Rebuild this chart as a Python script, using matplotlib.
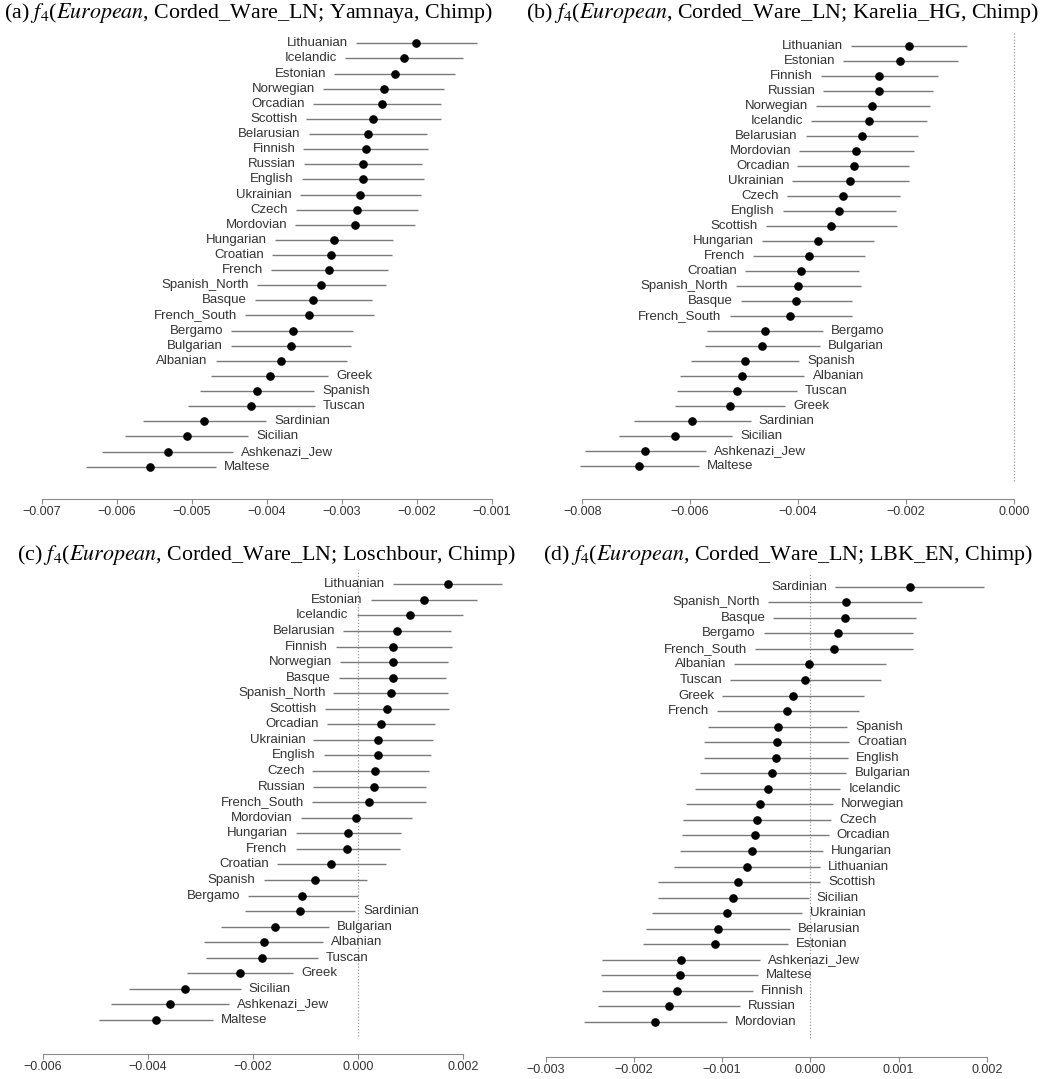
import matplotlib
matplotlib.use("Agg")
import matplotlib.pyplot as plt

plt.rcParams['font.family'] = ['Liberation Sans', 'DejaVu Sans']
plt.rcParams['mathtext.fontset'] = 'stix'

W, H = 1055, 1079

# (a) Yamnaya
pops_a = ["Lithuanian", "Icelandic", "Estonian", "Norwegian", "Orcadian", "Scottish",
          "Belarusian", "Finnish", "Russian", "English", "Ukrainian", "Czech", "Mordovian",
          "Hungarian", "Croatian", "French", "Spanish_North", "Basque", "French_South",
          "Bergamo", "Bulgarian", "Albanian", "Greek", "Spanish", "Tuscan", "Sardinian",
          "Sicilian", "Ashkenazi_Jew", "Maltese"]
est_a = [-0.00201, -0.00217, -0.00229, -0.00244, -0.00246, -0.00258, -0.00265, -0.00268,
         -0.00272, -0.00271, -0.00275, -0.00279, -0.00282, -0.00310, -0.00314, -0.00317,
         -0.00328, -0.00338, -0.00343, -0.00365, -0.00368, -0.00381, -0.00396, -0.00413,
         -0.00421, -0.00483, -0.00506, -0.00532, -0.00555]
lo_a = [-0.00281, -0.00296, -0.00310, -0.00325, -0.00338, -0.00348, -0.00344, -0.00351,
        -0.00350, -0.00353, -0.00356, -0.00361, -0.00362, -0.00389, -0.00393, -0.00394,
        -0.00413, -0.00416, -0.00429, -0.00447, -0.00448, -0.00468, -0.00474, -0.00489,
        -0.00505, -0.00565, -0.00589, -0.00619, -0.00641]
hi_a = [-0.00120, -0.00138, -0.00149, -0.00163, -0.00167, -0.00168, -0.00186, -0.00185,
        -0.00193, -0.00190, -0.00194, -0.00198, -0.00202, -0.00231, -0.00233, -0.00238,
        -0.00241, -0.00259, -0.00257, -0.00285, -0.00288, -0.00293, -0.00318, -0.00337,
        -0.00336, -0.00401, -0.00425, -0.00445, -0.00468]

# (b) Karelia_HG
pops_b = ["Lithuanian", "Estonian", "Finnish", "Russian", "Norwegian", "Icelandic",
          "Belarusian", "Mordovian", "Orcadian", "Ukrainian", "Czech", "English", "Scottish",
          "Hungarian", "French", "Croatian", "Spanish_North", "Basque", "French_South",
          "Bergamo", "Bulgarian", "Spanish", "Albanian", "Tuscan", "Greek", "Sardinian",
          "Sicilian", "Ashkenazi_Jew", "Maltese"]
est_b = [-0.00194, -0.00211, -0.00249, -0.00250, -0.00262, -0.00268, -0.00282, -0.00292,
         -0.00297, -0.00304, -0.00316, -0.00324, -0.00338, -0.00362, -0.00380, -0.00394,
         -0.00400, -0.00404, -0.00414, -0.00461, -0.00466, -0.00498, -0.00503, -0.00514,
         -0.00527, -0.00596, -0.00628, -0.00683, -0.00694]
lo_b = [-0.00302, -0.00316, -0.00357, -0.00353, -0.00367, -0.00375, -0.00386, -0.00398,
        -0.00401, -0.00412, -0.00421, -0.00428, -0.00460, -0.00467, -0.00484, -0.00498,
        -0.00515, -0.00506, -0.00527, -0.00568, -0.00572, -0.00598, -0.00618, -0.00624,
        -0.00629, -0.00704, -0.00732, -0.00795, -0.00804]
hi_b = [-0.00086, -0.00104, -0.00140, -0.00149, -0.00155, -0.00161, -0.00177, -0.00184,
        -0.00195, -0.00195, -0.00211, -0.00219, -0.00217, -0.00259, -0.00276, -0.00287,
        -0.00283, -0.00300, -0.00300, -0.00353, -0.00360, -0.00398, -0.00388, -0.00402,
        -0.00424, -0.00488, -0.00522, -0.00571, -0.00584]

# (c) Loschbour
pops_c = ["Lithuanian", "Estonian", "Icelandic", "Belarusian", "Finnish", "Norwegian",
          "Basque", "Spanish_North", "Scottish", "Orcadian", "Ukrainian", "English", "Czech",
          "Russian", "French_South", "Mordovian", "Hungarian", "French", "Croatian",
          "Spanish", "Bergamo", "Sardinian", "Bulgarian", "Albanian", "Tuscan", "Greek",
          "Sicilian", "Ashkenazi_Jew", "Maltese"]
est_c = [0.00170, 0.00125, 0.00099, 0.00073, 0.00067, 0.00067, 0.00066, 0.00062, 0.00054,
         0.00043, 0.00037, 0.00037, 0.00032, 0.00030, 0.00021, -0.00004, -0.00019, -0.00021,
         -0.00052, -0.00083, -0.00106, -0.00111, -0.00159, -0.00180, -0.00183, -0.00225,
         -0.00329, -0.00358, -0.00384]
lo_c = [0.00066, 0.00024, -0.00003, -0.00029, -0.00043, -0.00035, -0.00036, -0.00047,
        -0.00063, -0.00060, -0.00085, -0.00065, -0.00087, -0.00085, -0.00088, -0.00109,
        -0.00118, -0.00119, -0.00155, -0.00180, -0.00209, -0.00216, -0.00261, -0.00294,
        -0.00290, -0.00326, -0.00435, -0.00471, -0.00492]
hi_c = [0.00273, 0.00227, 0.00200, 0.00176, 0.00178, 0.00170, 0.00167, 0.00171, 0.00173,
        0.00146, 0.00143, 0.00139, 0.00135, 0.00129, 0.00130, 0.00103, 0.00081, 0.00080,
        0.00053, 0.00016, 0.00000, -0.00006, -0.00055, -0.00066, -0.00077, -0.00123,
        -0.00223, -0.00246, -0.00277]

# (d) LBK_EN
pops_d = ["Sardinian", "Spanish_North", "Basque", "Bergamo", "French_South", "Albanian",
          "Tuscan", "Greek", "French", "Spanish", "Croatian", "English", "Bulgarian",
          "Icelandic", "Norwegian", "Czech", "Orcadian", "Hungarian", "Lithuanian",
          "Scottish", "Sicilian", "Ukrainian", "Belarusian", "Estonian", "Ashkenazi_Jew",
          "Maltese", "Finnish", "Russian", "Mordovian"]
est_d = [0.00113, 0.00040, 0.00039, 0.00031, 0.00027, -0.00001, -0.00006, -0.00020,
         -0.00026, -0.00037, -0.00038, -0.00039, -0.00043, -0.00048, -0.00057, -0.00060,
         -0.00063, -0.00066, -0.00072, -0.00082, -0.00088, -0.00094, -0.00105, -0.00108,
         -0.00147, -0.00148, -0.00151, -0.00160, -0.00176]
lo_d = [0.00028, -0.00048, -0.00042, -0.00053, -0.00063, -0.00086, -0.00091, -0.00100,
        -0.00106, -0.00116, -0.00121, -0.00121, -0.00125, -0.00131, -0.00141, -0.00144,
        -0.00146, -0.00148, -0.00155, -0.00173, -0.00173, -0.00179, -0.00186, -0.00190,
        -0.00236, -0.00237, -0.00236, -0.00241, -0.00257]
hi_d = [0.00197, 0.00127, 0.00120, 0.00116, 0.00117, 0.00086, 0.00080, 0.00061, 0.00055,
        0.00042, 0.00044, 0.00043, 0.00041, 0.00034, 0.00026, 0.00024, 0.00021, 0.00014,
        0.00011, 0.00011, -0.00002, -0.00009, -0.00023, -0.00025, -0.00057, -0.00059,
        -0.00065, -0.00080, -0.00095]

ticks_a = [-0.007, -0.006, -0.005, -0.004, -0.003, -0.002, -0.001]
ticks_b = [-0.008, -0.006, -0.004, -0.002, 0.000]
ticks_c = [-0.006, -0.004, -0.002, 0.000, 0.002]
ticks_d = [-0.003, -0.002, -0.001, 0.000, 0.001, 0.002]

titles = ["Yamnaya", "Karelia_HG", "Loschbour", "LBK_EN"]

LINE_COL = '#7a7a7a'
TEXT_COL = '#333333'


def draw_panel(fig, box, pops, est, lo, hi, ticks, right_from, zero_line):
    # box = (x_left, x_right, first_row_y, last_row_y, spine_y) in pixels
    xl, xr, y0, y1, ysp = box
    n = len(pops)
    step = (y1 - y0) / (n - 1)
    top = y0 - 1.3 * step
    ax = fig.add_axes([xl / W, 1 - ysp / H, (xr - xl) / W, (ysp - top) / H])
    ax.set_xlim(ticks[0], ticks[-1])
    ax.set_ylim(-(ysp - y0) / step, (y0 - top) / step)

    if zero_line:
        ax.vlines(0, -(n - 1) - 1.0, 0.95, colors='#999999', linestyles=(0, (1, 1.5)),
                  lw=0.9, clip_on=False)

    ys = [-i for i in range(n)]
    ax.hlines(ys, lo, hi, colors=LINE_COL, lw=1.0, clip_on=False)
    ax.plot(est, ys, 'o', color='black', ms=5.2, zorder=3, clip_on=False)

    for i, p in enumerate(pops):
        if i < right_from:
            ax.annotate(p, (lo[i], -i), xytext=(-8, 0), textcoords='offset pixels',
                        ha='right', va='center', fontsize=9.5, color=TEXT_COL)
        else:
            ax.annotate(p, (hi[i], -i), xytext=(8, 0), textcoords='offset pixels',
                        ha='left', va='center', fontsize=9.5, color=TEXT_COL)

    for s in ['top', 'right', 'left']:
        ax.spines[s].set_visible(False)
    ax.spines['bottom'].set_color('#8a8a8a')
    ax.spines['bottom'].set_bounds(ticks[0], ticks[-1])
    ax.set_yticks([])
    ax.set_xticks(ticks, [f"{t:.3f}".replace("-", "\u2212") for t in ticks])
    ax.tick_params(axis='x', colors='#8a8a8a', labelcolor=TEXT_COL, labelsize=9,
                   length=3.5, pad=1.5)
    ax.patch.set_alpha(0)
    return ax


fig = plt.figure(figsize=(W / 100, H / 100), dpi=100)

draw_panel(fig, (41.7, 491.7, 43.3, 466.7, 499), pops_a, est_a, lo_a, hi_a, ticks_a, 22, False)
draw_panel(fig, (582.3, 1013.7, 46, 466, 498.7), pops_b, est_b, lo_b, hi_b, ticks_b, 19, True)
draw_panel(fig, (42.7, 463.3, 584.3, 1020, 1054), pops_c, est_c, lo_c, hi_c, ticks_c, 21, True)
draw_panel(fig, (545.7, 986.7, 586.7, 1022, 1056.7), pops_d, est_d, lo_d, hi_d, ticks_d, 9, True)

title_pos = [(4, 13), (526, 13), (17, 555), (543, 555)]
for (tx, ty), letter, ref in zip(title_pos, "abcd", titles):
    fig.text(tx / W, 1 - ty / H,
             f"({letter}) $f_4$($\\mathit{{European}}$, Corded_Ware_LN; {ref}, Chimp)",
             family='Liberation Serif', fontsize=15.8, ha='left', va='center', color='black')

fig.savefig("out.png", dpi=100)
